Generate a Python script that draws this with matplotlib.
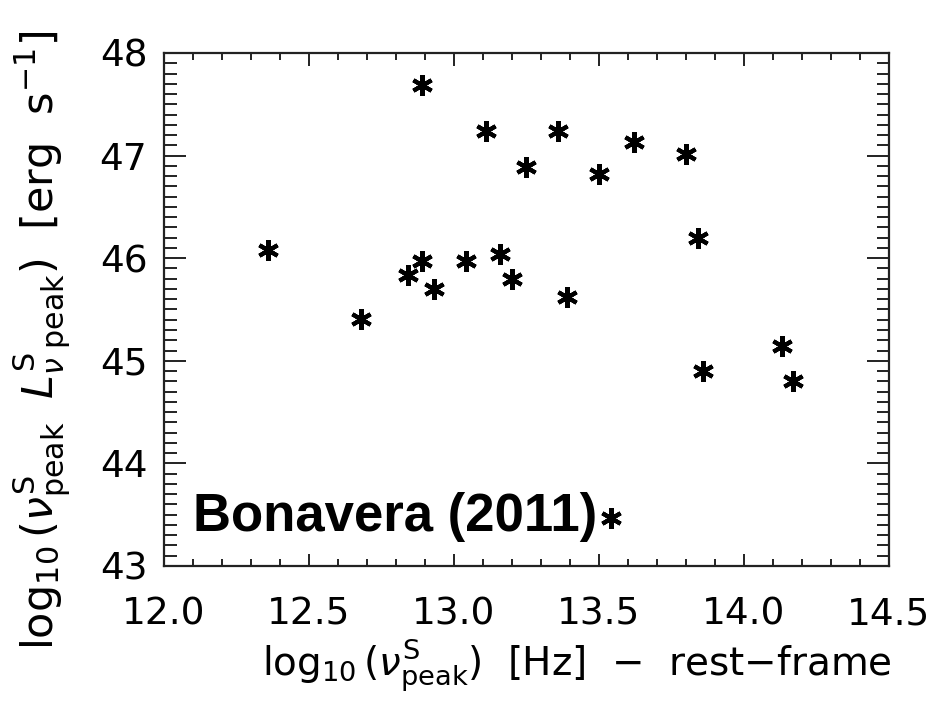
import matplotlib

matplotlib.use("Agg")
import matplotlib.pyplot as plt
from matplotlib.ticker import MultipleLocator, FormatStrFormatter

plt.rcParams["font.family"] = ["DejaVu Sans"]
plt.rcParams["mathtext.fontset"] = "dejavusans"

# log10 peak frequency [Hz], rest frame
nu_peak = [12.36, 12.68, 12.84, 12.89, 12.89, 12.93, 13.04, 13.11, 13.16, 13.20,
           13.25, 13.36, 13.39, 13.50, 13.62, 13.80, 13.84, 13.86, 14.13, 14.17, 13.54]
# log10 nuL_nu at the peak [erg/s]
lum_peak = [46.08, 45.41, 45.84, 45.97, 47.69, 45.70, 45.97, 47.24, 46.04, 45.80,
            46.89, 47.24, 45.62, 46.82, 47.13, 47.02, 46.20, 44.90, 45.14, 44.80, 43.47]

fig = plt.figure(figsize=(9.39, 7.01), dpi=100)
ax = fig.add_axes([0.1747, 0.1926, 0.772, 0.7318])

ax.plot(nu_peak, lum_peak, linestyle="none", marker=(6, 2, 0),
        markersize=15, markeredgewidth=3.0, color="black")

ax.set_xlim(12.0, 14.5)
ax.set_ylim(43, 48)
ax.xaxis.set_major_locator(MultipleLocator(0.5))
ax.xaxis.set_minor_locator(MultipleLocator(0.1))
ax.yaxis.set_major_locator(MultipleLocator(1))
ax.yaxis.set_minor_locator(MultipleLocator(0.1))
ax.xaxis.set_major_formatter(FormatStrFormatter("%.1f"))

for s in ax.spines.values():
    s.set_linewidth(1.6)
    s.set_color("#222222")
ax.tick_params(axis="both", which="both", direction="in", top=True, right=True,
               color="#222222", width=1.4)
ax.tick_params(axis="x", which="major", length=9, pad=22, labelsize=27)
ax.tick_params(axis="x", which="minor", length=5)
ax.tick_params(axis="y", which="major", length=16, pad=12, labelsize=27)
ax.tick_params(axis="y", which="minor", length=9)

ax.text(12.1, 43.34, "Bonavera (2011)", fontsize=38, fontweight="bold",
        family="Liberation Sans", va="baseline", ha="left")

fig.text(0.614, 0.052, r"$\log_{10}(\nu^{\rm S}_{\rm peak})$  [Hz]  $-$  rest$-$frame",
         fontsize=28, ha="center", va="center")
fig.text(0.045, 0.515,
         r"$\log_{10}(\nu^{\rm S}_{\rm peak}\;\;L^{\rm S}_{\nu\ \rm peak})$  [erg  s$^{-1}$]",
         fontsize=31, ha="center", va="center", rotation=90)

fig.savefig("out.png", dpi=100)
